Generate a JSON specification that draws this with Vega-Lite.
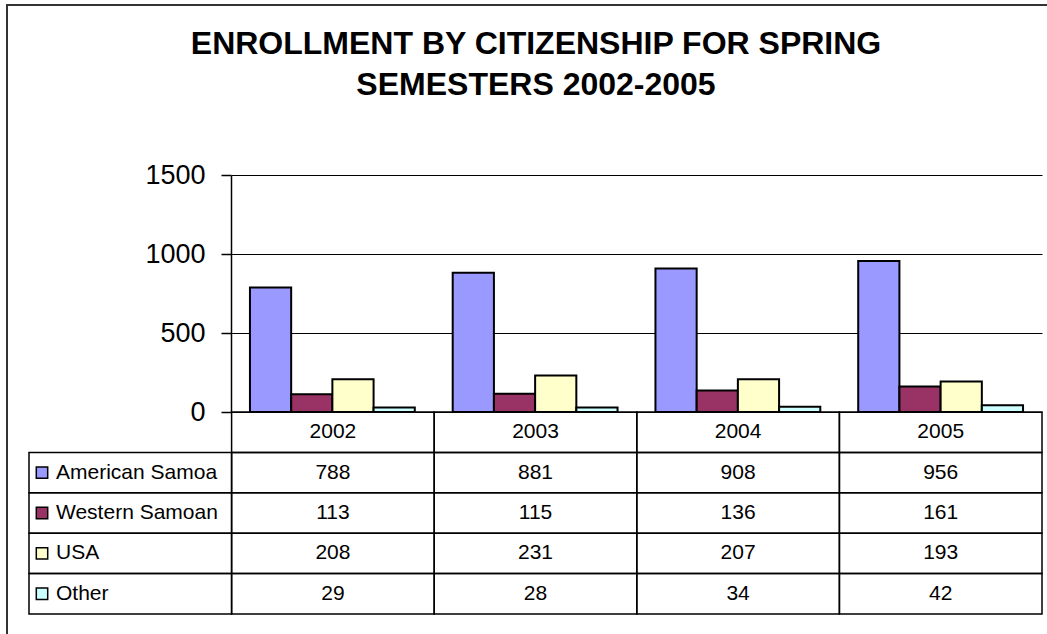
{
  "$schema": "https://vega.github.io/schema/vega-lite/v6.json",
  "width": 1040,
  "height": 629,
  "autosize": "none",
  "padding": {"left": 7, "top": 5, "right": 0, "bottom": 0},
  "background": "white",
  "config": {
    "font": "Liberation Sans",
    "view": {"stroke": "#333333", "strokeWidth": 2, "fill": "white", "strokeDash": [1669, 1669], "strokeDashOffset": 629}
  },
  "title": {
    "text": ["ENROLLMENT BY CITIZENSHIP FOR SPRING", "SEMESTERS 2002-2005"],
    "font": "Liberation Sans",
    "fontSize": 32,
    "fontWeight": "bold",
    "color": "#000000",
    "anchor": "middle",
    "frame": "group",
    "lineHeight": 41,
    "baseline": "top",
    "offset": -97,
    "dx": 9
  },
  "data": {
    "values": [
      {"series": "American Samoa", "year": "2002", "value": 788},
      {"series": "American Samoa", "year": "2003", "value": 881},
      {"series": "American Samoa", "year": "2004", "value": 908},
      {"series": "American Samoa", "year": "2005", "value": 956},
      {"series": "Western Samoan", "year": "2002", "value": 113},
      {"series": "Western Samoan", "year": "2003", "value": 115},
      {"series": "Western Samoan", "year": "2004", "value": 136},
      {"series": "Western Samoan", "year": "2005", "value": 161},
      {"series": "USA", "year": "2002", "value": 208},
      {"series": "USA", "year": "2003", "value": 231},
      {"series": "USA", "year": "2004", "value": 207},
      {"series": "USA", "year": "2005", "value": 193},
      {"series": "Other", "year": "2002", "value": 29},
      {"series": "Other", "year": "2003", "value": 28},
      {"series": "Other", "year": "2004", "value": 34},
      {"series": "Other", "year": "2005", "value": 42}
    ]
  },
  "layer": [
    {
      "mark": {"type": "bar", "stroke": "#000000", "strokeWidth": 2},
      "encoding": {
        "x": {
          "field": "year", "type": "nominal",
          "scale": {"domain": ["2002", "2003", "2004", "2005"], "range": [224, 1035], "paddingInner": 0, "paddingOuter": 0},
          "axis": null
        },
        "xOffset": {
          "field": "series", "type": "nominal",
          "scale": {"domain": ["American Samoa", "Western Samoan", "USA", "Other"], "paddingInner": 0, "paddingOuter": 0.46}
        },
        "y": {
          "field": "value", "type": "quantitative",
          "scale": {"domain": [0, 1500], "range": [407, 170], "nice": false, "zero": true},
          "axis": {
            "values": [0, 500, 1000, 1500],
            "format": "d",
            "title": null,
            "offset": -224,
            "grid": true,
            "gridColor": "#000000",
            "gridWidth": 1,
            "gridOpacity": 1,
            "domainColor": "#000000",
            "domainWidth": 1.5,
            "tickColor": "#000000",
            "tickWidth": 1.5,
            "tickSize": 10,
            "labelFont": "Liberation Sans",
            "labelFontSize": 27,
            "labelColor": "#000000",
            "labelPadding": 16
          }
        },
        "color": {
          "field": "series", "type": "nominal",
          "scale": {"domain": ["American Samoa", "Western Samoan", "USA", "Other"], "range": ["#9999FF", "#993366", "#FFFFCC", "#CCFFFF"]},
          "legend": null
        }
      }
    },
    {
      "encoding": {},
      "layer": [
        {
          "mark": {"type": "rect", "fill": "transparent", "stroke": "#000000", "strokeWidth": 1.5},
          "encoding": {
            "x": {
              "field": "year", "type": "nominal",
              "scale": {"domain": ["label", "2002", "2003", "2004", "2005"], "range": [22, 1035], "paddingInner": 0, "paddingOuter": 0},
              "axis": null
            },
            "y": {
              "field": "series", "type": "nominal",
              "scale": {"domain": ["header", "American Samoa", "Western Samoan", "USA", "Other"], "range": [407, 609], "paddingInner": 0, "paddingOuter": 0},
              "axis": null
            }
          }
        },
        {
          "transform": [{"filter": "datum.series === 'American Samoa'"}],
          "mark": {"type": "rect", "fill": "transparent", "stroke": "#000000", "strokeWidth": 1.5},
          "encoding": {
            "x": {"field": "year", "type": "nominal"},
            "y": {"datum": "header", "type": "nominal"}
          }
        },
        {
          "transform": [{"filter": "datum.year === '2002'"}],
          "mark": {"type": "rect", "fill": "transparent", "stroke": "#000000", "strokeWidth": 1.5},
          "encoding": {
            "x": {"datum": "label", "type": "nominal"},
            "y": {"field": "series", "type": "nominal"}
          }
        },
        {
          "mark": {"type": "text", "fontSize": 21, "color": "#000000", "baseline": "middle", "align": "center"},
          "encoding": {
            "x": {"field": "year", "type": "nominal"},
            "y": {"field": "series", "type": "nominal"},
            "text": {"field": "value", "type": "quantitative"}
          }
        },
        {
          "transform": [{"filter": "datum.series === 'American Samoa'"}],
          "mark": {"type": "text", "fontSize": 21, "color": "#000000", "baseline": "middle", "align": "center"},
          "encoding": {
            "x": {"field": "year", "type": "nominal"},
            "y": {"datum": "header", "type": "nominal"},
            "text": {"field": "year", "type": "nominal"}
          }
        },
        {
          "transform": [{"filter": "datum.year === '2002'"}],
          "mark": {"type": "text", "fontSize": 21, "color": "#000000", "baseline": "middle", "align": "left", "dx": 27},
          "encoding": {
            "x": {"datum": "label", "type": "nominal", "bandPosition": 0},
            "y": {"field": "series", "type": "nominal"},
            "text": {"field": "series", "type": "nominal"}
          }
        },
        {
          "transform": [{"filter": "datum.year === '2002'"}],
          "mark": {"type": "point", "shape": "square", "filled": true, "size": 130, "stroke": "#000000", "strokeWidth": 1.5, "opacity": 1, "xOffset": 13},
          "encoding": {
            "x": {"datum": "label", "type": "nominal", "bandPosition": 0},
            "y": {"field": "series", "type": "nominal"},
            "color": {"field": "series", "type": "nominal", "legend": null}
          }
        }
      ]
    }
  ],
  "resolve": {"scale": {"x": "independent", "y": "independent"}}
}
